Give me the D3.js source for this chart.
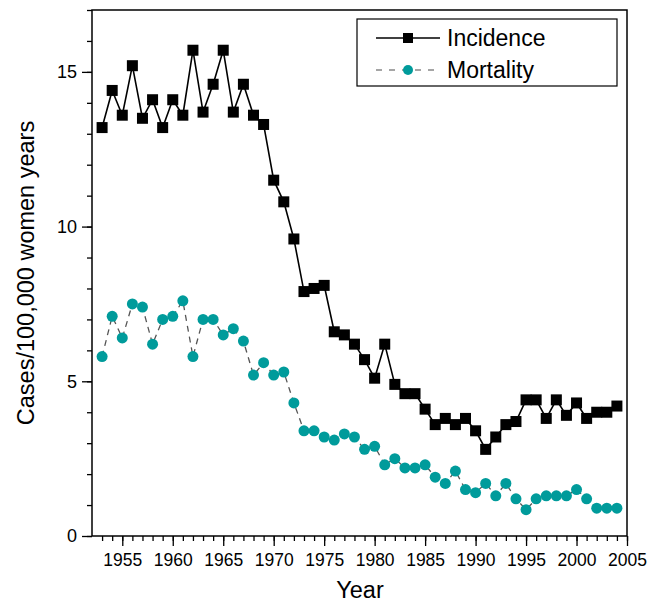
<!DOCTYPE html>
<html><head><meta charset="utf-8">
<script src="https://cdn.jsdelivr.net/npm/d3@7"></script>
<style>body{margin:0;background:#fff}svg{display:block}text{font-family:"Liberation Sans",Arial,sans-serif}</style>
</head><body><svg id="c" width="661" height="602"></svg>
<script>
const years = d3.range(1953, 2005);
const incidence = [13.2,14.4,13.6,15.2,13.5,14.1,13.2,14.1,13.6,15.7,13.7,14.6,15.7,13.7,14.6,13.6,13.3,11.5,10.8,9.6,7.9,8.0,8.1,6.6,6.5,6.2,5.7,5.1,6.2,4.9,4.6,4.6,4.1,3.6,3.8,3.6,3.8,3.4,2.8,3.2,3.6,3.7,4.4,4.4,3.8,4.4,3.9,4.3,3.8,4.0,4.0,4.2];
const mortality = [5.8,7.1,6.4,7.5,7.4,6.2,7.0,7.1,7.6,5.8,7.0,7.0,6.5,6.7,6.3,5.2,5.6,5.2,5.3,4.3,3.4,3.4,3.2,3.1,3.3,3.2,2.8,2.9,2.3,2.5,2.2,2.2,2.3,1.9,1.7,2.1,1.5,1.4,1.7,1.3,1.7,1.2,0.85,1.2,1.3,1.3,1.3,1.5,1.2,0.9,0.9,0.9];
const xTickLabels = [1955,1960,1965,1970,1975,1980,1985,1990,1995,2000,2005];
const yTickLabels = [0,5,10,15];
const seriesNames = ["Incidence","Mortality"];

const svg = d3.select("#c");
const L=92, R=627, T=10, B=536;
const x = d3.scaleLinear().domain([1952,2005]).range([L,R]);
const y = d3.scaleLinear().domain([0,17]).range([B,T]);
const teal = "#009b9b";

// frame
svg.append("rect").attr("x",L).attr("y",T).attr("width",R-L).attr("height",B-T)
  .attr("fill","none").attr("stroke","#000").attr("stroke-width",1.5);

// x axis
const gx = svg.append("g").attr("transform",`translate(0,${B})`);
gx.call(d3.axisBottom(x).tickValues(d3.range(1953,2006)).tickSize(5).tickFormat(""))
  .call(g=>g.select(".domain").remove());
gx.append("g").call(d3.axisBottom(x).tickValues(xTickLabels).tickSize(10).tickPadding(8).tickFormat(d3.format("d")))
  .call(g=>g.select(".domain").remove())
  .selectAll("text").attr("font-size",17.5).attr("fill","#000").attr("font-family","Liberation Sans, Arial, sans-serif");
gx.selectAll("line").attr("stroke","#000").attr("stroke-width",1.3);

// y axis
const gy = svg.append("g").attr("transform",`translate(${L},0)`);
gy.call(d3.axisLeft(y).tickValues(d3.range(0,18)).tickSize(5).tickFormat(""))
  .call(g=>g.select(".domain").remove());
gy.append("g").call(d3.axisLeft(y).tickValues(yTickLabels).tickSize(10).tickPadding(5).tickFormat(d3.format("d")))
  .call(g=>g.select(".domain").remove())
  .selectAll("text").attr("font-size",18).attr("fill","#000").attr("font-family","Liberation Sans, Arial, sans-serif");
gy.selectAll("line").attr("stroke","#000").attr("stroke-width",1.3);

// axis titles
svg.append("text").attr("x",360).attr("y",598).attr("text-anchor","middle")
  .attr("font-size",23.5).text("Year");
svg.append("text").attr("transform",`translate(34,273) rotate(-90)`).attr("text-anchor","middle")
  .attr("font-size",23.5).text("Cases/100,000 women years");

const line = d3.line().x((d,i)=>x(years[i])).y(d=>y(d));

// mortality
svg.append("path").datum(mortality).attr("d",line).attr("fill","none")
  .attr("stroke","#555").attr("stroke-width",1.3).attr("stroke-dasharray","6,5");
svg.append("g").selectAll("circle").data(mortality).join("circle")
  .attr("cx",(d,i)=>x(years[i])).attr("cy",d=>y(d)).attr("r",5.5).attr("fill",teal);

// incidence
svg.append("path").datum(incidence).attr("d",line).attr("fill","none")
  .attr("stroke","#000").attr("stroke-width",1.6);
svg.append("g").selectAll("rect").data(incidence).join("rect")
  .attr("x",(d,i)=>x(years[i])-5.5).attr("y",d=>y(d)-5.5).attr("width",11).attr("height",11).attr("fill","#000");

// legend
const lg = svg.append("g");
lg.append("rect").attr("x",357).attr("y",19).attr("width",260).attr("height",67)
  .attr("fill","#fff").attr("stroke","#000").attr("stroke-width",1.2);
const ly = [38,70];
lg.append("line").attr("x1",376).attr("x2",440).attr("y1",ly[0]).attr("y2",ly[0]).attr("stroke","#000").attr("stroke-width",1.5);
lg.append("rect").attr("x",403).attr("y",ly[0]-5).attr("width",10).attr("height",10).attr("fill","#000");
lg.append("line").attr("x1",376).attr("x2",440).attr("y1",ly[1]).attr("y2",ly[1]).attr("stroke","#888").attr("stroke-width",1.3).attr("stroke-dasharray","6,7");
lg.append("circle").attr("cx",408).attr("cy",ly[1]).attr("r",5).attr("fill",teal);
lg.selectAll("text.lt").data(seriesNames).join("text").attr("class","lt")
  .attr("x",447).attr("y",(d,i)=>ly[i]+8).attr("font-size",23).text(d=>d);
</script></body></html>
